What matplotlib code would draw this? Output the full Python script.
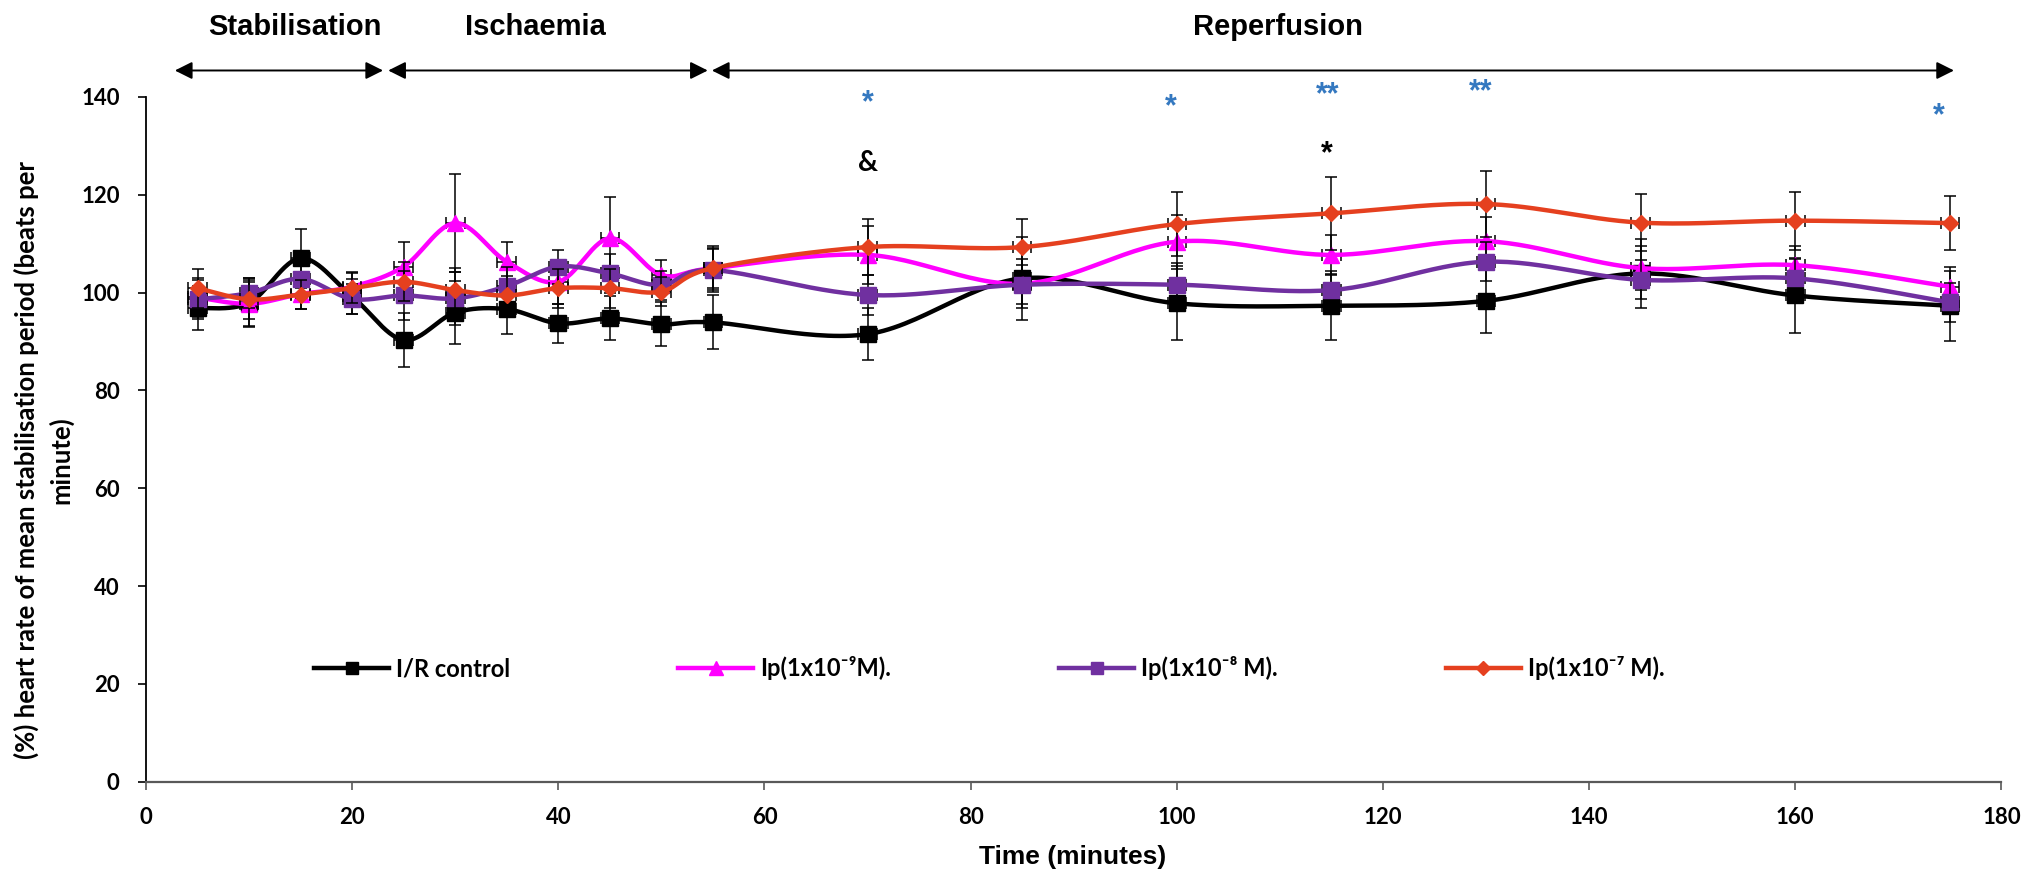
import numpy as np
import matplotlib
matplotlib.use("Agg")
import matplotlib.pyplot as plt
from matplotlib.lines import Line2D

plt.rcParams['font.family'] = ['Lato', 'DejaVu Sans']
plt.rcParams['font.weight'] = 'bold'

# ---- data ----
time = [5, 10, 15, 20, 25, 30, 35, 40, 45, 50, 55, 70, 85, 100, 115, 130, 145, 160, 175]
time_err = 0.9

ir_control = [96.8, 97.9, 107.0, 99.2, 90.3, 95.9, 96.6, 93.7, 94.7, 93.5, 93.9,
              91.5, 102.9, 97.8, 97.3, 98.3, 103.9, 99.4, 97.3]
ir_control_err = [4.5, 5.0, 6.0, 3.5, 5.5, 6.5, 5.0, 4.0, 4.5, 4.5, 5.5,
                  5.3, 8.5, 7.6, 7.1, 6.6, 7.0, 7.7, 7.2]

ip_9 = [99.0, 97.7, 99.7, 101.2, 105.3, 114.2, 106.3, 102.2, 111.1, 103.6, 105.0,
        107.7, 101.8, 110.4, 107.7, 110.5, 105.0, 105.6, 101.2]
ip_9_err = [4.0, 4.5, 3.0, 3.0, 5.0, 10.0, 4.0, 4.5, 8.5, 3.0, 4.0,
            6.0, 5.0, 5.5, 4.0, 5.0, 4.5, 4.0, 4.0]

ip_8 = [98.6, 99.9, 102.8, 98.7, 99.4, 98.8, 101.3, 105.3, 103.9, 101.5, 104.6,
        99.5, 101.6, 101.6, 100.5, 106.3, 102.6, 102.9, 98.0]
ip_8_err = [4.0, 3.0, 4.0, 3.0, 5.0, 5.5, 4.0, 3.5, 4.0, 3.0, 4.5,
            4.0, 4.0, 4.5, 3.0, 4.0, 4.0, 4.0, 4.0]

ip_7 = [100.9, 98.6, 99.6, 100.9, 102.2, 100.5, 99.4, 100.9, 100.9, 100.2, 105.0,
        109.3, 109.3, 114.0, 116.2, 118.1, 114.3, 114.7, 114.2]
ip_7_err = [4.0, 4.0, 3.0, 3.0, 4.0, 4.5, 4.0, 4.0, 4.0, 3.0, 4.5,
            5.7, 5.7, 6.6, 7.4, 6.8, 5.8, 5.9, 5.6]

labels = ['I/R control', 'Ip(1x10\u207b\u2079M).', 'Ip(1x10\u207b\u2078 M).', 'Ip(1x10\u207b\u2077 M).']

# phases: (label, start, end)
phase_names = ['Stabilisation', 'Ischaemia', 'Reperfusion']
phase_start = [2.8, 23.5, 54.9]
phase_end = [23.0, 54.5, 175.4]
phase_label_x = [14.45, 37.8, 109.8]

# significance marks
blue_marks = ['*', '*', '**', '**', '*']
blue_x = [70, 99.4, 114.6, 129.5, 173.9]
blue_y = [140.1, 139.3, 141.8, 142.4, 137.4]
black_marks = ['&', '*']
black_x = [70, 114.6]
black_y = [126.8, 129.6]


def smooth_curve(ax, xs, ys, steps=30):
    """Spreadsheet-style smoothed line (Bezier through points, in screen space)."""
    pts = ax.transData.transform(np.column_stack([xs, ys]))
    padded = np.vstack([pts[0], pts, pts[-1]])
    t = np.linspace(0, 1, steps)[:, None]
    out = []
    for i in range(len(pts) - 1):
        p0, p1, p2, p3 = padded[i], padded[i + 1], padded[i + 2], padded[i + 3]
        c1 = p1 + (p2 - p0) / 6
        c2 = p2 - (p3 - p1) / 6
        seg = (1 - t) ** 3 * p1 + 3 * (1 - t) ** 2 * t * c1 + 3 * (1 - t) * t ** 2 * c2 + t ** 3 * p2
        out.append(seg if i == 0 else seg[1:])
    curve = ax.transData.inverted().transform(np.vstack(out))
    return curve[:, 0], curve[:, 1]


fig = plt.figure(figsize=(20.26, 8.73), dpi=100, facecolor='white')
ax = fig.add_axes([0.07206, 0.10458, 0.9158, 0.78442])
ax.set_xlim(0, 180)
ax.set_ylim(0, 140)

series = [
    (ir_control, ir_control_err, '#000000', 's', 11),
    (ip_9, ip_9_err, '#FF00FF', '^', 12),
    (ip_8, ip_8_err, '#7030A0', 's', 11),
    (ip_7, ip_7_err, '#E5401F', 'D', 8.5),
]

handles = []
for k, (vals, errs, col, mk, ms) in enumerate(series):
    z = 3 + k * 3
    ax.errorbar(time, vals, yerr=errs, xerr=time_err, fmt='none', ecolor='black',
                elinewidth=1.1, capsize=4.5, capthick=1.1, zorder=z)
    sx, sy = smooth_curve(ax, time, vals)
    ax.plot(sx, sy, color=col, lw=3.2, zorder=z + 1, solid_capstyle='round')
    ax.plot(time, vals, ls='none', marker=mk, ms=ms, color=col, mec=col, zorder=z + 2)
    handles.append(Line2D([], [], color=col, lw=3.2, marker=mk, ms=ms * 0.85, mec=col))

# axes styling
for side in ['top', 'right']:
    ax.spines[side].set_visible(False)
ax.spines['left'].set_color('black')
ax.spines['left'].set_linewidth(1.3)
ax.spines['bottom'].set_color('#595959')
ax.spines['bottom'].set_linewidth(1.6)
ax.set_xticks(np.arange(0, 181, 20))
ax.set_yticks(np.arange(0, 141, 20))
ax.tick_params(axis='y', direction='out', length=6, width=1.2, pad=13, labelsize=16, colors='black')
ax.tick_params(axis='x', direction='out', length=6, width=1.2, pad=12, labelsize=16, colors='black')
ax.tick_params(axis='x', color='#595959')
for lab in ax.get_xticklabels() + ax.get_yticklabels():
    lab.set_fontweight('bold')

fig.text(1072.5 / 2026, 1 - 857 / 873, 'Time (minutes)', ha='center', va='center',
         fontsize=19, fontweight='bold', family=['Liberation Sans', 'DejaVu Sans'])
fig.text(43.5 / 2026, 1 - 460 / 873,
         '(%) heart rate of mean stabilisation period (beats per\nminute)',
         rotation=90, ha='center', va='center', multialignment='center',
         fontsize=18.5, fontweight='bold', linespacing=1.4)

# legend
ax.legend(handles, labels, ncol=4, loc='center left', bbox_to_anchor=(0.0905, 0.166),
          frameon=False, handlelength=3.19, handletextpad=0.3,
          columnspacing=7.1, borderpad=0, borderaxespad=0,
          prop={'weight': 'bold', 'size': 17})

# phase arrows and labels
for name, x0, x1, xl in zip(phase_names, phase_start, phase_end, phase_label_x):
    ax.annotate('', xy=(x1, 145.4), xytext=(x0, 145.4), annotation_clip=False,
                arrowprops=dict(arrowstyle='<|-|>,head_length=0.7,head_width=0.35',
                                mutation_scale=15, color='black', lw=1.4,
                                shrinkA=0, shrinkB=0))
    ax.text(xl, 154.3, name, ha='center', va='center', fontsize=21, fontweight='bold',
            family=['Liberation Sans', 'DejaVu Sans'], clip_on=False)

# significance marks
for m, x, y in zip(blue_marks, blue_x, blue_y):
    ax.text(x, y - 1.4, m, ha='center', va='center', fontsize=22, fontweight='bold',
            color='#3478C0', family=['Liberation Sans', 'DejaVu Sans'], clip_on=False)
for m, x, y in zip(black_marks, black_x, black_y):
    if m == '*':
        ax.text(x, y - 1.4, m, ha='center', va='center', fontsize=22, fontweight='bold',
                color='black', family=['Liberation Sans', 'DejaVu Sans'], clip_on=False)
    else:
        ax.text(x, y - 0.4, m, ha='center', va='center', fontsize=20, fontweight='bold',
                color='black', clip_on=False)

fig.savefig('out.png', dpi=100, facecolor='white')
